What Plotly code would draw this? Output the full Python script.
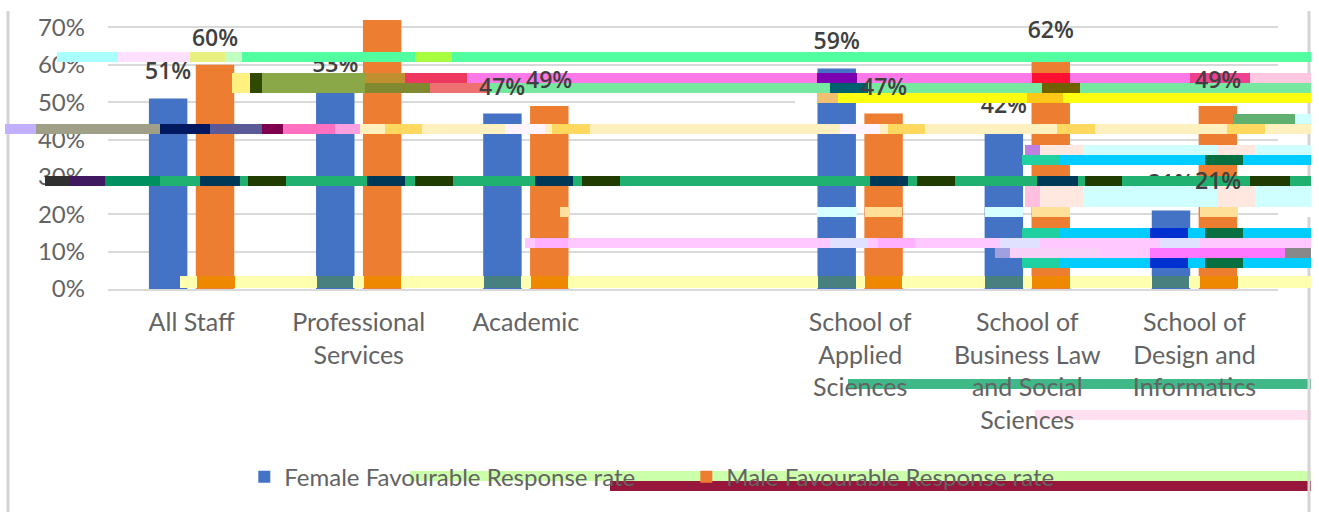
import plotly.graph_objects as go

categories = ["All Staff", "Professional<br>Services", "Academic", " ",
              "School of<br>Applied<br>Sciences",
              "School of<br>Business Law<br>and Social<br>Sciences",
              "School of<br>Design and<br>Informatics"]
female_values = [51, 53, 47, None, 59, 42, 21]
male_values = [60, 72, 49, None, 47, 62, 49]
female_name = "Female Favourable Response rate"
male_name = "Male Favourable Response rate"

# Geometry of the plotting area, in page pixels
W, H = 1319, 512
LEFT, RIGHT, TOP, BOTTOM = 108, 1278, 20, 289
GROUP_SHIFT = 23.5

BLUE, ORANGE = "#4472C4", "#ED7D31"
GREY_TEXT, DARK_TEXT, GRID = "#636363", "#404040", "#D9D9D9"
AXIS_FONT = "Lato"
LABEL_FONT = dict(family="Open Sans", size=23, color=DARK_TEXT, weight=600)

# Labels printed on top of the stripes: (category index, values, side of the group, extra lift)
raised_labels = [(2, female_values, -1, 0), (2, male_values, 1, 0),
                 (4, male_values, 1, 0), (6, male_values, 1, 0),
                 (6, female_values, 1, 4)]

def percent(values, skip):
    # A bar reaching past the top gridline carries no label
    return [None if v is None or v > 70 or i in skip else f"{v}%" for i, v in enumerate(values)]

fig = go.Figure()
for name, values, colour, group in [(female_name, female_values, BLUE, "f"),
                                    (male_name, male_values, ORANGE, "m")]:
    fig.add_bar(x=categories, y=values, name=name, marker_color=colour,
                marker_line_width=0, offsetgroup=group)
    skip = {i for i, series, side, lift in raised_labels if series is values and not (i == 6 and series is female_values)}
    # Value labels ride on a transparent marker, which lifts them above the bar
    fig.add_scatter(x=categories, y=values, mode="markers+text", text=percent(values, skip),
                    textposition="top center", offsetgroup=group, showlegend=False,
                    hoverinfo="skip", cliponaxis=False,
                    marker=dict(size=20, opacity=0), textfont=LABEL_FONT)

annotations = [dict(x=categories[i], y=series[i], xref="x", yref="y", text=f"{series[i]}%",
                    showarrow=False, xshift=side * GROUP_SHIFT, yshift=27 + lift,
                    yanchor="middle", font=LABEL_FONT)
               for i, series, side, lift in raised_labels]

# Colour stripes laid across the chart: (top, bottom, left, right, colour) in pixels
stripes = [
    (52, 62, 57, 118, "#AAFFFF"), (52, 62, 118, 190, "#FFE0FF"), (52, 62, 190, 225, "#E8F080"),
    (52, 62, 225, 242, "#C0FFC0"), (52, 62, 242, 1311, "#52FFA0"), (52, 62, 415, 452, "#A8FF40"),
    (73, 83, 232, 250, "#FFF080"), (73, 83, 250, 262, "#304800"), (73, 83, 262, 365, "#8AA848"),
    (73, 83, 365, 405, "#C09030"), (73, 83, 405, 467, "#EE3860"), (73, 83, 467, 1250, "#FF78E8"),
    (73, 83, 817, 857, "#7A00B0"), (73, 83, 1032, 1070, "#FF1030"), (73, 83, 1190, 1250, "#F04090"),
    (73, 83, 1250, 1311, "#FFC8E0"),
    (83, 93, 232, 250, "#FFF080"), (83, 93, 250, 262, "#304800"), (83, 93, 262, 365, "#8AA848"),
    (83, 93, 365, 430, "#808830"), (83, 93, 430, 487, "#EE7070"), (83, 93, 487, 1311, "#78E8A0"),
    (83, 93, 830, 868, "#006070"), (83, 93, 1042, 1080, "#706000"),
    (93, 103, 795, 817, "#FFFFFF"), (93, 103, 817, 838, "#F0C070"), (93, 103, 838, 1311, "#FFFF10"),
    (93, 103, 1027, 1063, "#FFC818"),
    (114, 124, 1233, 1295, "#60B070"), (114, 124, 1295, 1311, "#D0FFFF"),
    (124, 134, 5, 36, "#C0B0FF"), (124, 134, 36, 160, "#A0A088"), (124, 134, 160, 210, "#001860"),
    (124, 134, 210, 262, "#5A5A98"), (124, 134, 262, 283, "#800050"), (124, 134, 283, 335, "#FF70C0"),
    (124, 134, 335, 360, "#F8A0E0"), (124, 134, 360, 1311, "#FFF0C0"), (124, 134, 385, 422, "#FFD860"),
    (124, 134, 505, 545, "#FFF4FF"), (124, 134, 552, 590, "#FFD860"), (124, 134, 840, 880, "#FFF4FF"),
    (124, 134, 888, 925, "#FFD860"), (124, 134, 1057, 1095, "#FFD860"), (124, 134, 1227, 1265, "#FFD860"),
    (145, 155, 1025, 1040, "#C080E0"), (145, 155, 1040, 1083, "#FFE8E0"), (145, 155, 1083, 1217, "#D0FFFF"),
    (145, 155, 1217, 1255, "#FFE8E0"), (145, 155, 1255, 1311, "#D0FFFF"),
    (155, 165, 1022, 1060, "#20D0A0"), (155, 165, 1060, 1311, "#00CCFF"), (155, 165, 1205, 1243, "#087040"),
    (176, 186, 45, 70, "#303030"), (176, 186, 70, 105, "#401860"), (176, 186, 105, 160, "#009060"),
    (176, 186, 160, 1311, "#20B070"),
    (176, 186, 200, 240, "#003858"), (176, 186, 248, 286, "#203C00"),
    (176, 186, 367, 405, "#003858"), (176, 186, 415, 453, "#203C00"),
    (176, 186, 535, 573, "#003858"), (176, 186, 582, 620, "#203C00"),
    (176, 186, 870, 908, "#003858"), (176, 186, 917, 955, "#203C00"),
    (176, 186, 1037, 1078, "#003858"), (176, 186, 1085, 1122, "#203C00"),
    (176, 186, 1250, 1290, "#203C00"),
    (186, 207, 1025, 1040, "#FFC0E0"), (186, 207, 1040, 1083, "#FFE8E0"), (186, 207, 1083, 1217, "#D0FFFF"),
    (186, 207, 1217, 1255, "#FFE8E0"), (186, 207, 1255, 1311, "#D0FFFF"),
    (207, 217, 560, 570, "#FFE0A0"), (207, 217, 817, 857, "#D8FFFF"), (207, 217, 865, 902, "#FFE098"),
    (207, 217, 985, 1023, "#D8FFFF"), (207, 217, 1032, 1070, "#FFE098"), (207, 217, 1200, 1238, "#FFE098"),
    (207, 217, 1305, 1312, "#FFFFFF"),
    (228, 238, 1022, 1060, "#20D0A0"), (228, 238, 1060, 1311, "#00CCFF"), (228, 238, 1150, 1188, "#0030D0"),
    (228, 238, 1205, 1243, "#087040"),
    (238, 248, 525, 1311, "#FFC8FF"), (238, 248, 535, 568, "#FFB0FF"), (238, 248, 830, 868, "#E0E0FF"),
    (238, 248, 878, 915, "#FFB0FF"), (238, 248, 1000, 1040, "#E0E0FF"), (238, 248, 1160, 1200, "#E0E0FF"),
    (248, 258, 995, 1010, "#A0A0E0"), (248, 258, 1010, 1100, "#F8D0F8"), (248, 258, 1100, 1150, "#FFC8FF"),
    (248, 258, 1150, 1285, "#FF78FF"), (248, 258, 1285, 1311, "#888888"),
    (258, 268, 1022, 1060, "#20D0A0"), (258, 268, 1060, 1311, "#00CCFF"), (258, 268, 1150, 1188, "#0030D0"),
    (258, 268, 1205, 1243, "#087040"),
    (276, 288, 180, 1311, "#FFFFB0"),
    (276, 288, 317, 353, "#488080"), (276, 288, 484, 521, "#488080"), (276, 288, 818, 856, "#488080"),
    (276, 288, 985, 1023, "#488080"), (276, 288, 1152, 1189, "#488080"),
    (276, 288, 197, 235, "#EE8800"), (276, 288, 364, 401, "#EE8800"), (276, 288, 531, 568, "#EE8800"),
    (276, 288, 865, 902, "#EE8800"), (276, 288, 1032, 1070, "#EE8800"), (276, 288, 1200, 1238, "#EE8800"),
    (379, 389, 848, 1311, "#40B888"), (410, 420, 1035, 1311, "#FFE0F0"),
    (471, 481, 410, 1311, "#CCFFAA"), (481, 491, 610, 1311, "#96163C"),
]

span_x, span_y = RIGHT - LEFT, BOTTOM - TOP
# Stripes in the axis-label and legend zone sit behind the text, the others cover the bars
shapes = [dict(type="rect", xref="paper", yref="paper", line_width=0, fillcolor=c,
               layer="below" if y0 > 300 else "above",
               x0=(x0 - LEFT) / span_x, x1=(x1 - LEFT) / span_x,
               y0=(BOTTOM - y1) / span_y, y1=(BOTTOM - y0) / span_y)
          for y0, y1, x0, x1, c in stripes]
# Thin frame lines on both sides of the chart
for px in (8, 1309):
    shapes.append(dict(type="line", xref="paper", yref="paper", layer="below",
                       line=dict(color="#D4D4D4", width=3),
                       x0=(px - LEFT) / span_x, x1=(px - LEFT) / span_x,
                       y0=(BOTTOM - 512) / span_y, y1=(BOTTOM - 11) / span_y))

fig.update_layout(
    width=W, height=H, autosize=False,
    margin=dict(l=LEFT, r=W - RIGHT, t=TOP, b=H - BOTTOM, autoexpand=False),
    plot_bgcolor="rgba(0,0,0,0)", paper_bgcolor="white",
    barmode="group", bargap=0.439, bargroupgap=0.18,
    scattermode="group", scattergap=0.439,
    font=dict(family=AXIS_FONT, color=GREY_TEXT),
    shapes=shapes, annotations=annotations,
    legend=dict(orientation="h", x=0.1165, y=-0.699, xanchor="left", yanchor="middle",
                font=dict(size=24, color=GREY_TEXT), itemwidth=30, traceorder="normal",
                entrywidth=397, entrywidthmode="pixels", bgcolor="rgba(0,0,0,0)"),
)
fig.update_xaxes(type="category", categoryorder="array", categoryarray=categories,
                 tickfont=dict(size=25, color=GREY_TEXT), showgrid=False, ticks="",
                 showline=True, linecolor=GRID, linewidth=2, tickangle=0, ticklen=0,
                 automargin=False, ticklabelstandoff=10)
fig.update_yaxes(range=[0, 72], tickvals=[0, 10, 20, 30, 40, 50, 60, 70],
                 ticktext=["0%", "10%", "20%", "30%", "40%", "50%", "60%", "70%"],
                 tickfont=dict(size=24, color=GREY_TEXT), gridcolor=GRID, gridwidth=2,
                 zeroline=False, showline=False, ticks="", ticklabelstandoff=22, automargin=False)

fig.write_html("out.html")
